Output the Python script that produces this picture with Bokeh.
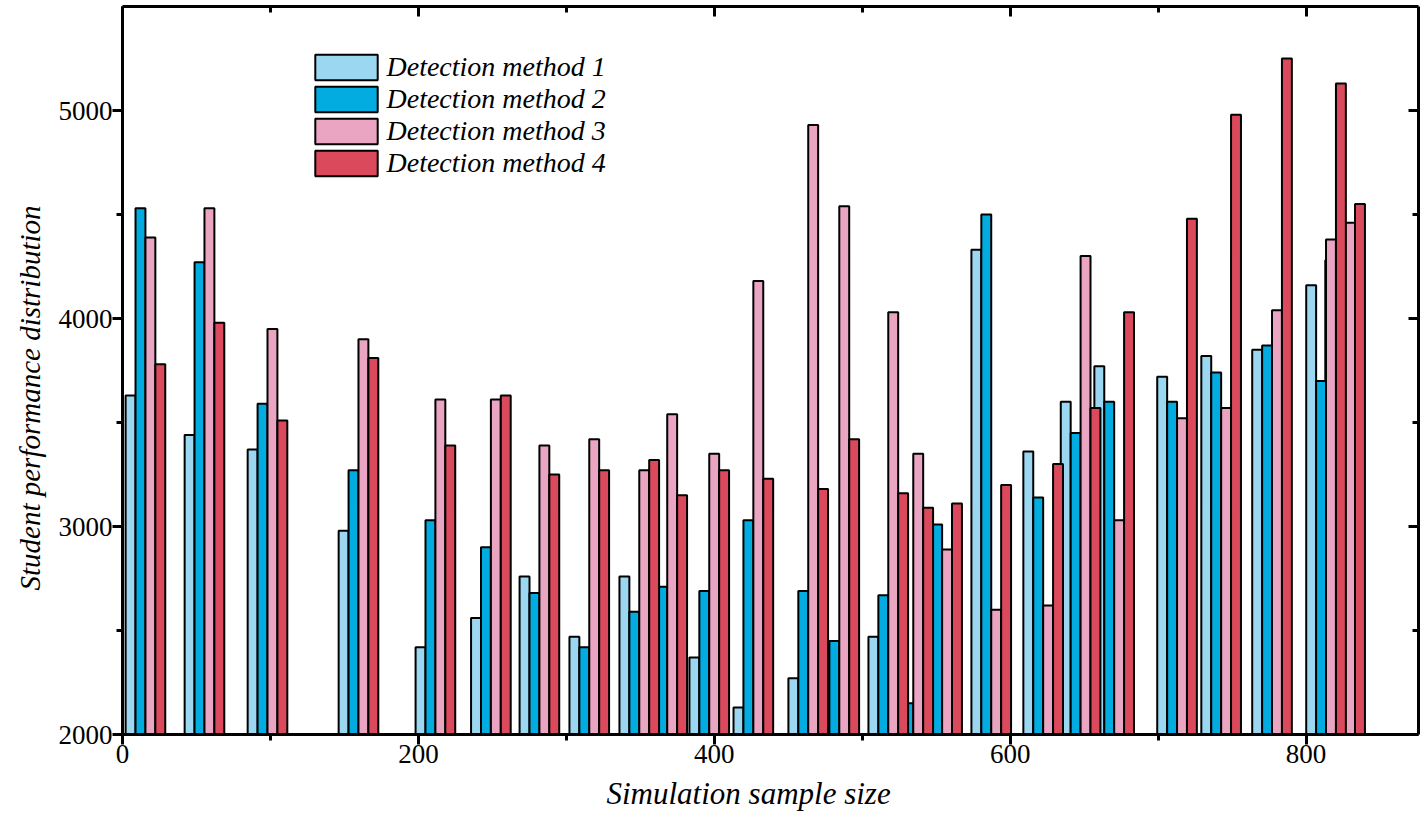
from bokeh.plotting import figure
from bokeh.models import (ColumnDataSource, Range1d, LinearAxis, FixedTicker,
                          Legend, LegendItem, Title)
from bokeh.embed import file_html
from bokeh.resources import INLINE

# ---- data ----
sample_size = [15.5, 55.4, 98.0, 159.5, 211.5, 249.0, 281.8, 315.5, 349.3, 368.2,
               396.6, 426.4, 463.5, 484.5, 517.6, 534.5, 554.0, 587.2, 622.3, 647.6,
               670.3, 712.8, 742.6, 777.0, 813.5, 826.4]
method1 = [3630, 3440, 3370, 2980, 2420, 2560, 2760, 2470, 2760, 2500,
           2370, 2130, 2270, 2200, 2470, 2400, 2600, 4330, 3360, 3600,
           3770, 3720, 3820, 3850, 4160, 4280]
method2 = [4530, 4270, 3590, 3270, 3030, 2900, 2680, 2420, 2590, 2710,
           2690, 3030, 2690, 2450, 2670, 2150, 3010, 4500, 3140, 3450,
           3600, 3600, 3740, 3870, 3700, 4000]
method3 = [4390, 4530, 3950, 3900, 3610, 3610, 3390, 3420, 3270, 3540,
           3350, 4180, 4930, 4540, 4030, 3350, 2890, 2600, 2620, 4300,
           3030, 3520, 3570, 4040, 4380, 4460]
method4 = [3780, 3980, 3510, 3810, 3390, 3630, 3250, 3270, 3320, 3150,
           3270, 3230, 3180, 3420, 3160, 3090, 3110, 3200, 3300, 3570,
           4030, 4480, 4980, 5250, 5130, 4550]
series_names = ["Detection method 1", "Detection method 2",
                "Detection method 3", "Detection method 4"]
x_ticks = [0, 200, 400, 600, 800]
y_ticks = [2000, 3000, 4000, 5000]
x_title = "Simulation sample size"
y_title = "Student performance distribution"

colors = ["#9BD7F1", "#03ACE0", "#E9A5C1", "#DA4A5C"]
bar_w = 6.7
offsets = [-1.5, -0.5, 0.5, 1.5]

FONT = "Liberation Serif"

p = figure(width=1422, height=820, output_backend="svg", toolbar_location=None,
           x_range=Range1d(0, 876), y_range=Range1d(2000, 5500),
           min_border_left=122, min_border_right=4, min_border_top=6,
           min_border_bottom=86, x_axis_location=None, y_axis_location=None)
p.grid.visible = False
p.outline_line_color = None
p.background_fill_color = "white"

renderers = []
for vals, col, off in zip([method1, method2, method3, method4], colors, offsets):
    src = ColumnDataSource(dict(x=[s + off * bar_w for s in sample_size], top=vals))
    r = p.vbar(x="x", top="top", bottom=2000, width=bar_w, source=src,
               fill_color=col, line_color="black", line_width=2)
    renderers.append(r)

xt = FixedTicker(ticks=x_ticks, minor_ticks=[100, 300, 500, 700])
yt = FixedTicker(ticks=y_ticks, minor_ticks=[2500, 3500, 4500])


def style(ax, inside):
    ax.axis_line_width = 3
    ax.axis_line_color = "black"
    ax.major_tick_line_width = 3
    ax.minor_tick_line_width = 3
    if inside:
        ax.major_tick_in, ax.major_tick_out = 10, 0
        ax.minor_tick_in, ax.minor_tick_out = 6, 0
    else:
        ax.major_tick_in, ax.major_tick_out = 0, 10
        ax.minor_tick_in, ax.minor_tick_out = 0, 6
    ax.major_label_text_font = FONT
    ax.major_label_text_font_size = "27px"
    ax.major_label_text_color = "black"


xb = LinearAxis(ticker=xt)
style(xb, False)
xb.major_label_standoff = 0
p.add_layout(xb, "below")

yl = LinearAxis(ticker=yt)
style(yl, False)
yl.major_label_standoff = 0
p.add_layout(yl, "left")

xtop = LinearAxis(ticker=xt, major_label_overrides={t: "" for t in x_ticks})
style(xtop, True)
xtop.major_label_text_font_size = "1px"
p.add_layout(xtop, "above")

yr = LinearAxis(ticker=yt, major_label_overrides={t: "" for t in y_ticks})
style(yr, True)
yr.major_label_text_font_size = "1px"
p.add_layout(yr, "right")

# axis titles as side titles
p.add_layout(Title(text=x_title, align="left", offset=484, standoff=17,
                   text_font=FONT, text_font_style="italic", text_font_size="31px",
                   text_color="black"), "below")
p.add_layout(Title(text=y_title, align="left", offset=144, standoff=20,
                   text_font=FONT, text_font_style="italic", text_font_size="29px",
                   text_color="black"), "left")

legend = Legend(items=[LegendItem(label=n, renderers=[r]) for n, r in zip(series_names, renderers)],
                location=(184.5, 555), padding=0, margin=0, border_line_color=None,
                background_fill_alpha=0, glyph_width=78, glyph_height=32,
                label_height=30, spacing=0, label_standoff=2,
                label_text_font=FONT, label_text_font_style="italic",
                label_text_font_size="28px", label_text_color="black")
p.add_layout(legend)

open("out.html", "w").write(file_html(p, INLINE))
